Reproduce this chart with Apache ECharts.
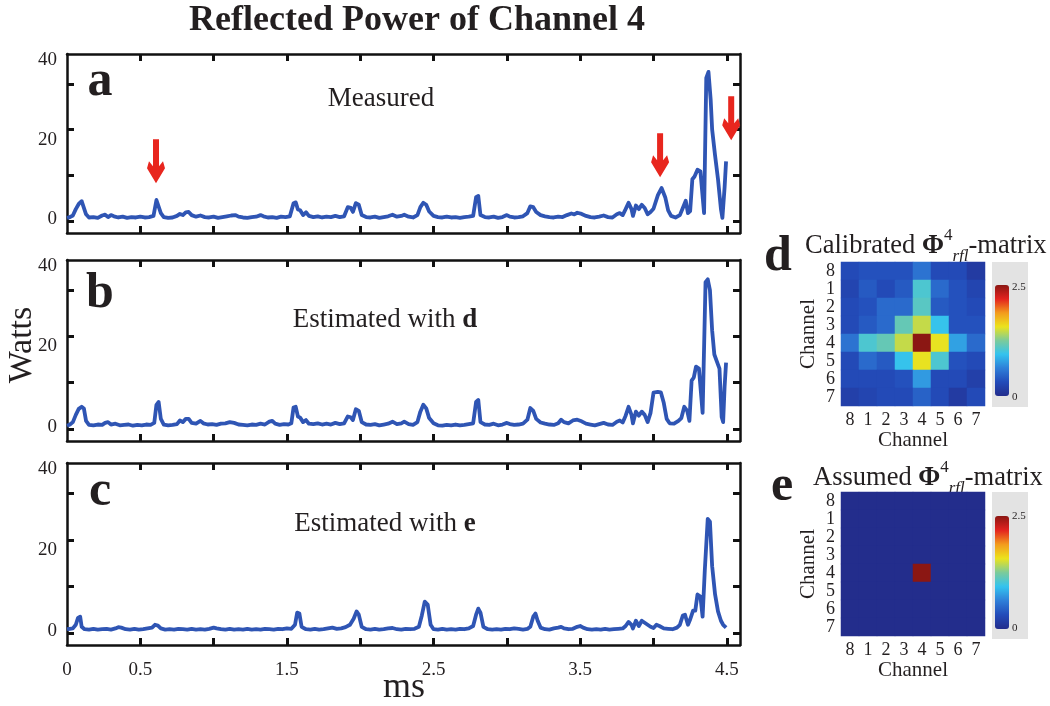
<!DOCTYPE html>
<html><head><meta charset="utf-8">
<script src="https://cdn.jsdelivr.net/npm/echarts@6/dist/echarts.min.js"></script>
<style>html,body{margin:0;padding:0;background:#fff}#c{width:1050px;height:706px}</style>
</head><body><div id="c"></div>
<script>
// ---------------- data ----------------
const measured = [[0,0.3],[0.02,0.5],[0.04,0.9],[0.06,2.5],[0.08,3.8],[0.10,4.5],[0.11,4.2],[0.13,1.2],[0.15,0.4],[0.18,0.5],[0.21,0.3],[0.24,0.9],[0.26,1.1],[0.28,0.5],[0.30,1.0],[0.32,0.7],[0.35,0.4],[0.38,0.6],[0.41,0.3],[0.44,0.5],[0.47,0.4],[0.50,0.6],[0.53,0.4],[0.56,0.5],[0.59,0.8],[0.61,4.8],[0.62,5.2],[0.64,1.5],[0.66,0.5],[0.69,0.3],[0.72,0.4],[0.75,0.8],[0.77,1.3],[0.79,1.0],[0.81,1.7],[0.83,1.8],[0.85,1.0],[0.88,0.6],[0.91,0.9],[0.94,0.5],[0.97,0.4],[1.00,0.6],[1.03,0.3],[1.06,0.5],[1.09,0.7],[1.12,0.9],[1.15,1.0],[1.17,0.6],[1.20,0.4],[1.23,0.3],[1.26,0.5],[1.29,0.6],[1.32,1.0],[1.34,0.7],[1.37,0.4],[1.40,0.5],[1.43,0.3],[1.46,0.6],[1.49,0.5],[1.52,0.7],[1.545,4.0],[1.56,4.2],[1.575,2.4],[1.59,2.2],[1.61,1.0],[1.63,1.7],[1.65,0.8],[1.68,0.5],[1.71,0.7],[1.74,0.4],[1.77,0.6],[1.80,0.5],[1.83,0.8],[1.86,0.5],[1.89,0.7],[1.915,3.0],[1.935,2.8],[1.95,1.8],[1.97,4.0],[1.99,3.6],[2.01,1.0],[2.04,0.5],[2.07,0.4],[2.10,0.6],[2.13,0.3],[2.16,0.5],[2.19,0.7],[2.22,1.1],[2.25,0.6],[2.28,0.8],[2.30,1.1],[2.33,0.6],[2.36,0.4],[2.39,1.0],[2.41,3.0],[2.43,4.1],[2.45,3.6],[2.47,1.9],[2.50,0.8],[2.53,0.5],[2.56,0.4],[2.59,0.6],[2.62,0.4],[2.65,0.5],[2.68,0.3],[2.71,0.5],[2.74,0.6],[2.77,0.8],[2.79,5.5],[2.805,5.8],[2.82,1.0],[2.85,0.5],[2.88,0.4],[2.91,0.6],[2.94,0.3],[2.97,0.5],[3.00,1.0],[3.02,0.6],[3.05,0.4],[3.08,0.5],[3.11,0.7],[3.14,1.5],[3.16,3.2],[3.18,3.0],[3.20,1.8],[3.23,1.0],[3.26,0.7],[3.29,0.5],[3.32,0.4],[3.35,0.6],[3.38,0.5],[3.41,1.0],[3.44,1.4],[3.46,1.2],[3.48,1.6],[3.51,1.3],[3.54,0.8],[3.57,0.5],[3.60,0.4],[3.63,0.6],[3.66,0.9],[3.69,0.5],[3.72,0.4],[3.75,1.2],[3.77,1.5],[3.79,1.0],[3.81,2.5],[3.83,4.1],[3.85,2.5],[3.86,0.8],[3.88,3.4],[3.90,2.5],[3.92,3.6],[3.94,2.8],[3.96,1.2],[3.98,1.8],[4.00,2.6],[4.03,6.0],[4.055,7.8],[4.08,5.5],[4.10,2.2],[4.12,0.8],[4.15,0.4],[4.18,1.0],[4.20,2.8],[4.22,4.6],[4.235,1.5],[4.25,2.0],[4.265,10.0],[4.28,10.7],[4.30,12.4],[4.32,12.0],[4.345,1.5],[4.36,35.5],[4.375,37.0],[4.39,30.0],[4.40,22.5],[4.42,16.0],[4.44,10.0],[4.46,2.5],[4.47,0.3],[4.485,8.0],[4.495,14.5]];

const estimatedD = [[0,0.3],[0.02,0.6],[0.04,1.2],[0.06,3.0],[0.08,4.5],[0.10,5.0],[0.115,4.6],[0.13,1.5],[0.15,0.5],[0.18,0.4],[0.21,0.6],[0.24,0.5],[0.26,1.0],[0.28,1.2],[0.30,0.6],[0.33,0.8],[0.36,0.4],[0.39,0.5],[0.42,0.6],[0.45,0.3],[0.48,0.5],[0.51,0.4],[0.54,0.6],[0.57,0.5],[0.595,1.0],[0.61,5.5],[0.625,6.2],[0.64,2.0],[0.66,0.6],[0.69,0.4],[0.72,0.5],[0.75,0.7],[0.77,1.6],[0.79,1.2],[0.81,2.0],[0.83,2.0],[0.85,1.0],[0.88,0.8],[0.91,1.5],[0.93,0.9],[0.96,0.6],[0.99,0.7],[1.02,0.5],[1.05,0.8],[1.08,0.9],[1.11,1.2],[1.14,1.0],[1.17,0.6],[1.20,0.5],[1.23,0.4],[1.26,0.6],[1.29,0.5],[1.32,0.8],[1.35,0.6],[1.38,1.3],[1.40,1.5],[1.42,0.8],[1.45,0.5],[1.48,0.7],[1.51,0.6],[1.53,0.9],[1.545,4.8],[1.56,5.0],[1.575,2.6],[1.59,2.3],[1.61,1.2],[1.63,1.7],[1.65,0.8],[1.68,0.7],[1.71,0.9],[1.74,0.6],[1.77,0.8],[1.80,0.6],[1.83,1.0],[1.86,0.7],[1.89,0.9],[1.915,2.6],[1.935,2.4],[1.95,1.7],[1.97,4.4],[1.99,4.0],[2.01,1.2],[2.04,0.6],[2.07,0.5],[2.10,0.7],[2.13,0.4],[2.16,0.6],[2.19,0.8],[2.22,1.3],[2.25,0.7],[2.28,0.9],[2.30,1.3],[2.33,0.7],[2.36,0.5],[2.39,1.2],[2.41,3.8],[2.43,5.5],[2.45,4.6],[2.47,2.2],[2.50,0.9],[2.53,0.4],[2.56,0.3],[2.59,0.5],[2.62,0.4],[2.65,0.6],[2.68,0.4],[2.71,0.5],[2.74,0.7],[2.77,0.9],[2.79,6.2],[2.805,6.7],[2.82,1.2],[2.85,0.6],[2.88,0.5],[2.91,0.8],[2.94,0.4],[2.97,0.6],[3.00,1.0],[3.02,0.7],[3.05,0.5],[3.08,0.6],[3.11,0.8],[3.14,1.8],[3.16,4.7],[3.18,4.0],[3.20,2.0],[3.23,1.1],[3.26,0.8],[3.29,0.6],[3.32,0.5],[3.35,0.9],[3.37,1.8],[3.39,1.2],[3.42,0.9],[3.45,1.6],[3.48,1.8],[3.51,1.4],[3.54,0.8],[3.57,0.6],[3.60,0.4],[3.63,0.7],[3.66,1.0],[3.69,0.6],[3.72,0.5],[3.75,1.3],[3.77,1.6],[3.79,1.1],[3.81,2.8],[3.83,5.0],[3.85,3.0],[3.86,0.9],[3.88,3.8],[3.90,2.8],[3.92,3.8],[3.94,3.0],[3.96,1.2],[3.98,3.5],[4.00,8.5],[4.03,8.7],[4.05,8.6],[4.07,6.0],[4.09,2.0],[4.11,0.9],[4.14,0.8],[4.17,1.5],[4.19,2.2],[4.21,5.0],[4.23,4.0],[4.245,1.5],[4.26,11.5],[4.275,12.3],[4.29,15.0],[4.31,14.5],[4.335,3.5],[4.355,36.0],[4.37,36.7],[4.385,34.0],[4.40,24.0],[4.415,18.0],[4.435,16.0],[4.45,14.5],[4.465,2.5],[4.475,1.2],[4.485,10.0],[4.495,16.0]];

const estimatedE = [[0,0.4],[0.02,0.5],[0.04,0.6],[0.06,1.5],[0.075,3.2],[0.09,3.5],[0.10,1.0],[0.12,0.4],[0.15,0.3],[0.18,0.5],[0.21,0.3],[0.24,0.4],[0.27,0.5],[0.30,0.3],[0.33,0.6],[0.35,0.9],[0.37,0.8],[0.40,0.4],[0.43,0.3],[0.46,0.5],[0.49,0.3],[0.52,0.4],[0.55,0.6],[0.58,0.8],[0.60,1.5],[0.62,1.3],[0.64,0.6],[0.67,0.3],[0.70,0.4],[0.73,0.3],[0.76,0.5],[0.79,0.4],[0.82,0.3],[0.85,0.5],[0.88,0.3],[0.91,0.4],[0.94,0.3],[0.97,0.5],[1.00,0.8],[1.02,0.6],[1.05,0.4],[1.08,0.3],[1.11,0.5],[1.14,0.3],[1.17,0.4],[1.20,0.3],[1.23,0.5],[1.26,0.3],[1.29,0.4],[1.32,0.3],[1.35,0.5],[1.38,0.4],[1.41,0.3],[1.44,0.5],[1.47,0.4],[1.50,0.6],[1.53,0.5],[1.555,1.5],[1.57,4.5],[1.585,4.3],[1.60,1.0],[1.63,0.4],[1.66,0.3],[1.69,0.5],[1.72,0.3],[1.75,0.4],[1.78,0.6],[1.81,0.8],[1.84,0.5],[1.87,0.6],[1.90,0.9],[1.93,1.5],[1.955,3.0],[1.975,4.8],[1.99,4.0],[2.01,1.0],[2.04,0.4],[2.07,0.3],[2.10,0.5],[2.13,0.3],[2.16,0.4],[2.19,0.6],[2.22,0.7],[2.25,0.4],[2.28,0.3],[2.31,0.5],[2.34,0.4],[2.37,0.5],[2.40,1.0],[2.42,3.8],[2.44,7.2],[2.46,6.5],[2.48,1.5],[2.50,0.4],[2.53,0.3],[2.56,0.5],[2.59,0.3],[2.62,0.4],[2.65,0.3],[2.68,0.5],[2.71,0.4],[2.74,0.6],[2.77,1.2],[2.79,4.0],[2.805,5.5],[2.82,4.5],[2.84,1.0],[2.87,0.4],[2.90,0.3],[2.93,0.4],[2.96,0.3],[2.99,0.5],[3.02,0.4],[3.05,0.6],[3.08,0.5],[3.11,0.3],[3.14,0.5],[3.16,1.0],[3.18,3.5],[3.195,4.3],[3.21,2.5],[3.23,0.8],[3.26,0.4],[3.29,0.3],[3.32,0.6],[3.35,0.8],[3.37,1.0],[3.39,0.6],[3.42,0.4],[3.45,0.5],[3.48,1.0],[3.50,1.2],[3.52,0.8],[3.55,0.4],[3.58,0.3],[3.61,0.4],[3.64,0.3],[3.67,0.5],[3.70,0.3],[3.73,0.4],[3.76,0.5],[3.79,0.6],[3.81,1.2],[3.83,2.2],[3.85,1.5],[3.86,0.6],[3.88,2.5],[3.90,1.2],[3.92,2.5],[3.94,2.0],[3.96,1.5],[3.98,1.0],[4.00,0.7],[4.02,1.5],[4.04,1.2],[4.07,0.6],[4.10,0.5],[4.13,0.4],[4.16,0.8],[4.18,1.5],[4.20,3.8],[4.215,4.0],[4.235,1.5],[4.25,2.8],[4.27,5.0],[4.285,5.0],[4.30,9.0],[4.32,8.5],[4.335,3.5],[4.35,15.0],[4.37,27.7],[4.385,27.0],[4.40,16.0],[4.42,9.0],[4.44,4.8],[4.46,2.5],[4.475,1.5],[4.495,0.8]];

// red arrows in panel a: [time, value at arrow tip]
const arrowMarks = [[0.607, 9.0], [4.045, 10.5], [4.53, 19.8]];

// axis ticks / labels
const xTickValues = [0.5, 1, 1.5, 2, 2.5, 3, 3.5, 4, 4.5];
const xLabelValues = [0, 0.5, 1.5, 2.5, 3.5, 4.5];
const yTickValues = [-0.5, 11, 22.5, 34];
const yLabelValues = [0, 20, 40];

// heatmaps (rows top->bottom, cols left->right)
const channels = ['8', '1', '2', '3', '4', '5', '6', '7'];
const calibratedRows = [
  [0.3, 0.35, 0.35, 0.35, 0.55, 0.3, 0.3, 0.15],
  [0.25, 0.4, 0.3, 0.4, 1.05, 0.5, 0.35, 0.25],
  [0.3, 0.35, 0.5, 0.5, 1.1, 0.4, 0.35, 0.3],
  [0.3, 0.4, 0.5, 1.15, 1.45, 0.95, 0.35, 0.35],
  [0.55, 1.05, 1.15, 1.45, 2.5, 1.55, 0.78, 0.5],
  [0.3, 0.5, 0.4, 0.95, 1.55, 1.05, 0.35, 0.3],
  [0.3, 0.3, 0.3, 0.35, 0.75, 0.3, 0.3, 0.2],
  [0.2, 0.25, 0.3, 0.3, 0.45, 0.3, 0.15, 0.3]
];
const assumedRows = [
  [0, 0, 0, 0, 0, 0, 0, 0],
  [0, 0, 0, 0, 0, 0, 0, 0],
  [0, 0, 0, 0, 0, 0, 0, 0],
  [0, 0, 0, 0, 0, 0, 0, 0],
  [0, 0, 0, 0, 2.5, 0, 0, 0],
  [0, 0, 0, 0, 0, 0, 0, 0],
  [0, 0, 0, 0, 0, 0, 0, 0],
  [0, 0, 0, 0, 0, 0, 0, 0]
];
const colorRange = [0, 2.5];

// ---------------- chart ----------------
const FF = 'Liberation Serif';
const INK = '#231f20';
const LINE = '#2f55b4';
const jet = ['#232d8c', '#234bb9', '#2f7fd8', '#33c3ef', '#7ccb9a', '#ece31c', '#f39a1d', '#e3221f', '#8b1713'];

function toCells(rows) {
  const out = [];
  rows.forEach((r, yi) => r.forEach((v, xi) => out.push([xi, yi, v])));
  return out;
}

const panelGrids = [
  { left: 67, top: 54, width: 673, height: 179 },
  { left: 67, top: 260, width: 673, height: 181 },
  { left: 67, top: 463, width: 673, height: 182 }
];
const heatGrids = [
  { left: 841, top: 262, width: 144, height: 144 },
  { left: 841, top: 492, width: 144, height: 144 }
];

const axisLine = { show: true, onZero: false, lineStyle: { color: '#111', width: 2.5 } };
const tickStyle = { color: '#111', width: 3 };

const xAxes = [], yAxes = [], series = [];
const panelData = [measured, estimatedD, estimatedE];
panelData.forEach((d, i) => {
  ['bottom', 'top'].forEach(pos => {
    xAxes.push({
      type: 'value', gridIndex: i, min: 0, max: 4.59, position: pos,
      axisLine, splitLine: { show: false },
      axisTick: { show: true, inside: true, length: 7, lineStyle: tickStyle, customValues: xTickValues },
      axisLabel: { show: pos === 'bottom' && i === 2, customValues: xLabelValues, margin: 16,
        fontFamily: FF, fontSize: 19, color: INK }
    });
  });
  ['left', 'right'].forEach(pos => {
    yAxes.push({
      type: 'value', gridIndex: i, min: -3.5, max: 41.5, position: pos,
      axisLine, splitLine: { show: false },
      axisTick: { show: true, inside: true, length: 7, lineStyle: tickStyle, customValues: yTickValues },
      axisLabel: { show: pos === 'left', customValues: yLabelValues, margin: 10,
        fontFamily: FF, fontSize: 19, color: INK }
    });
  });
  const s = {
    type: 'line', xAxisIndex: 2 * i, yAxisIndex: 2 * i, data: d,
    showSymbol: false, symbol: 'none', clip: true,
    lineStyle: { color: LINE, width: 3.8, join: 'round' }, z: 3
  };
  if (i === 0) {
    s.markPoint = {
      symbol: 'path://M6,0 L12,0 L12,27 L16,22 L18,29 L9,44 L0,29 L2,22 L6,27 Z',
      symbolSize: [18, 44], symbolOffset: [0, '-50%'], silent: true,
      itemStyle: { color: '#e8261e' }, label: { show: false },
      data: arrowMarks.map(a => ({ coord: a }))
    };
  }
  series.push(s);
});

const heatRows = [calibratedRows, assumedRows];
heatRows.forEach((rows, k) => {
  const gi = 3 + k;
  xAxes.push({
    type: 'category', gridIndex: gi, data: channels, position: 'bottom',
    axisLine: { show: false }, axisTick: { show: false }, splitLine: { show: false },
    axisLabel: { interval: 0, fontFamily: FF, fontSize: 18, color: INK, margin: 5 },
    name: 'Channel', nameLocation: 'middle', nameGap: 18,
    nameTextStyle: { fontFamily: FF, fontSize: 21, color: INK, verticalAlign: 'top' }
  });
  yAxes.push({
    type: 'category', gridIndex: gi, data: channels, inverse: true, position: 'left',
    axisLine: { show: false }, axisTick: { show: false }, splitLine: { show: false },
    axisLabel: { interval: 0, fontFamily: FF, fontSize: 18, color: INK, margin: 6 },
    name: 'Channel', nameLocation: 'middle', nameGap: 22, nameRotate: 90,
    nameTextStyle: { fontFamily: FF, fontSize: 21, color: INK }
  });
  series.push({
    type: 'heatmap', xAxisIndex: 6 + k, yAxisIndex: 6 + k, data: toCells(rows),
    itemStyle: { borderWidth: 0 }, emphasis: { disabled: true }
  });
});

const visualMaps = [
  { seriesIndex: 3, top: 285, itemHeight: 111 },
  { seriesIndex: 4, top: 516, itemHeight: 113 }
].map(v => ({
  type: 'continuous', seriesIndex: v.seriesIndex, min: colorRange[0], max: colorRange[1],
  inRange: { color: jet }, calculable: false, hoverLink: false, padding: 0,
  left: 995, top: v.top, itemWidth: 14, itemHeight: v.itemHeight, orient: 'vertical',
  textStyle: { color: 'transparent' }, z: 10
}));

function txt(x, y, text, font, extra) {
  return { type: 'text', silent: true,
    style: Object.assign({ x, y, text, font, fill: INK, textAlign: 'center', textVerticalAlign: 'middle' }, extra || {}) };
}
function richTitle(x, y, word) {
  return { type: 'text', silent: true, style: {
    x, y, textAlign: 'left', textVerticalAlign: 'middle', fill: INK,
    text: '{n|' + word + ' }{b|Φ}{sup|4}{sub|rfl}{n|-matrix}',
    rich: {
      n: { fontFamily: FF, fontSize: 26.5, lineHeight: 38, fill: INK },
      b: { fontFamily: FF, fontSize: 26.5, fontWeight: 'bold', lineHeight: 38, fill: INK },
      sup: { fontFamily: FF, fontSize: 17, lineHeight: 17, verticalAlign: 'top', fill: INK },
      sub: { fontFamily: FF, fontSize: 17, fontStyle: 'italic', lineHeight: 17, verticalAlign: 'bottom', fill: INK }
    }
  } };
}

const graphics = [
  { type: 'rect', shape: { x: 992, y: 262, width: 36, height: 145 }, style: { fill: '#e3e3e3' }, silent: true, z: -10 },
  { type: 'rect', shape: { x: 992, y: 492, width: 36, height: 147 }, style: { fill: '#e3e3e3' }, silent: true, z: -10 },
  txt(417, 21, 'Reflected Power of Channel 4', 'bold 36px "Liberation Serif"'),
  { type: 'text', silent: true, x: 22, y: 345, rotation: Math.PI / 2,
    style: { x: 0, y: 0, text: 'Watts', font: '34px "Liberation Serif"', fill: INK, textAlign: 'center', textVerticalAlign: 'middle' } },
  txt(404, 688, 'ms', '36px "Liberation Serif"'),
  txt(100, 82, 'a', 'bold 50px "Liberation Serif"'),
  txt(100, 294, 'b', 'bold 50px "Liberation Serif"'),
  txt(100, 492, 'c', 'bold 50px "Liberation Serif"'),
  txt(778, 257, 'd', 'bold 50px "Liberation Serif"'),
  txt(782, 487, 'e', 'bold 50px "Liberation Serif"'),
  txt(381, 99, 'Measured', '27px "Liberation Serif"'),
  { type: 'text', silent: true, style: { x: 385, y: 320, textAlign: 'center', textVerticalAlign: 'middle', fill: INK,
      text: '{n|Estimated with }{b|d}', rich: { n: { fontFamily: FF, fontSize: 27, fill: INK }, b: { fontFamily: FF, fontSize: 27, fontWeight: 'bold', fill: INK } } } },
  { type: 'text', silent: true, style: { x: 385, y: 524, textAlign: 'center', textVerticalAlign: 'middle', fill: INK,
      text: '{n|Estimated with }{b|e}', rich: { n: { fontFamily: FF, fontSize: 27, fill: INK }, b: { fontFamily: FF, fontSize: 27, fontWeight: 'bold', fill: INK } } } },
  richTitle(805, 246, 'Calibrated'),
  richTitle(813, 478, 'Assumed'),
  txt(1012, 287, '2.5', '11px "Liberation Serif"', { textAlign: 'left' }),
  txt(1012, 397, '0', '11px "Liberation Serif"', { textAlign: 'left' }),
  txt(1012, 516, '2.5', '11px "Liberation Serif"', { textAlign: 'left' }),
  txt(1012, 628, '0', '11px "Liberation Serif"', { textAlign: 'left' })
];

const chart = echarts.init(document.getElementById('c'), null, { renderer: 'canvas' });
chart.setOption({
  animation: false,
  backgroundColor: '#ffffff',
  grid: panelGrids.concat(heatGrids).map(g => Object.assign({ containLabel: false }, g)),
  xAxis: xAxes,
  yAxis: yAxes,
  visualMap: visualMaps,
  series,
  graphic: graphics
});
</script>
</body></html>
